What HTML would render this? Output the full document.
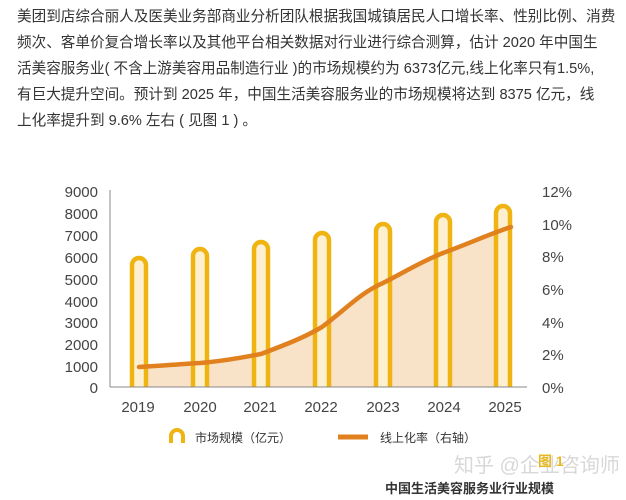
<!DOCTYPE html>
<html><head><meta charset="utf-8"><style>
body{margin:0;width:626px;height:500px;background:#fff;overflow:hidden;font-family:"Liberation Sans","Noto Sans CJK SC",sans-serif;}
.p{position:absolute;left:17px;top:4px;width:600px;font-size:14.6px;line-height:26px;color:#333;white-space:nowrap;}
</style></head><body>
<div class="p">美团到店综合丽人及医美业务部商业分析团队根据我国城镇居民人口增长率、性别比例、消费<br>频次、客单价复合增长率以及其他平台相关数据对行业进行综合测算，估计 2020 年中国生<br>活美容服务业( 不含上游美容用品制造行业 )的市场规模约为 6373亿元,线上化率只有1.5%,<br>有巨大提升空间。预计到 2025 年，中国生活美容服务业的市场规模将达到 8375 亿元，线<br>上化率提升到 9.6% 左右 ( 见图 1 ) 。</div>
<svg width="626" height="500" style="position:absolute;left:0;top:0" font-family="Liberation Sans, Noto Sans CJK SC, sans-serif">
<g font-size="15" fill="#444" text-anchor="end">
<text x="98" y="197">9000</text><text x="98" y="219">8000</text><text x="98" y="241">7000</text><text x="98" y="263">6000</text><text x="98" y="285">5000</text><text x="98" y="307">4000</text><text x="98" y="328">3000</text><text x="98" y="350">2000</text><text x="98" y="372">1000</text><text x="98" y="393">0</text>
</g>
<g font-size="15" fill="#444">
<text x="542" y="197">12%</text><text x="542" y="230">10%</text><text x="542" y="262">8%</text><text x="542" y="295">6%</text><text x="542" y="328">4%</text><text x="542" y="360">2%</text><text x="542" y="393">0%</text>
</g>
<line x1="110" y1="190" x2="110" y2="387" stroke="#888" stroke-width="1"/>
<path d="M139,367 C160,366 180,364 200,363 C225,361 245,357 261,354 C290,343 305,337 322,327 C345,310 360,293 383,283 C405,272 420,262 443,253 C470,243 490,234 511,227 L511,387 L139,387 Z" fill="#f8e2c8"/>
<g fill="#fdf0d0" stroke="#efb312" stroke-width="4.5">
<path d="M132,387 V265 a7,7 0 0 1 14,0 V387"/>
<path d="M193,387 V256 a7,7 0 0 1 14,0 V387"/>
<path d="M254,387 V249 a7,7 0 0 1 14,0 V387"/>
<path d="M315,387 V240 a7,7 0 0 1 14,0 V387"/>
<path d="M376,387 V231 a7,7 0 0 1 14,0 V387"/>
<path d="M436,387 V222 a7,7 0 0 1 14,0 V387"/>
<path d="M496,387 V213 a7,7 0 0 1 14,0 V387"/>
</g>
<path d="M139,367 C160,366 180,364 200,363 C225,361 245,357 261,354 C290,343 305,337 322,327 C345,310 360,293 383,283 C405,272 420,262 443,253 C470,243 490,234 511,227" fill="none" stroke="#e0801e" stroke-width="4.5" stroke-linecap="round"/>
<line x1="110" y1="387" x2="527" y2="387" stroke="#888" stroke-width="1"/>
<g font-size="15" fill="#444" text-anchor="middle">
<text x="138" y="412">2019</text><text x="200" y="412">2020</text><text x="260" y="412">2021</text><text x="321" y="412">2022</text><text x="383" y="412">2023</text><text x="444" y="412">2024</text><text x="505" y="412">2025</text>
</g>
<path d="M171,443 V436 a6,6 0 0 1 12,0 V443" fill="none" stroke="#efb312" stroke-width="4"/>
<text x="195" y="442" font-size="12" fill="#333">市场规模（亿元）</text>
<line x1="338" y1="437" x2="368" y2="437" stroke="#e0801e" stroke-width="5"/>
<text x="380" y="442" font-size="12" fill="#333">线上化率（右轴）</text>
<text x="454" y="472" font-size="20" fill="#d8d8d8">知乎 @企业咨询师</text>
<text x="538" y="466" font-size="14" font-weight="bold" fill="#e8b820">图 1</text>
<text x="385" y="493" font-size="13" font-weight="bold" fill="#333">中国生活美容服务业行业规模</text>
</svg>
</body></html>
